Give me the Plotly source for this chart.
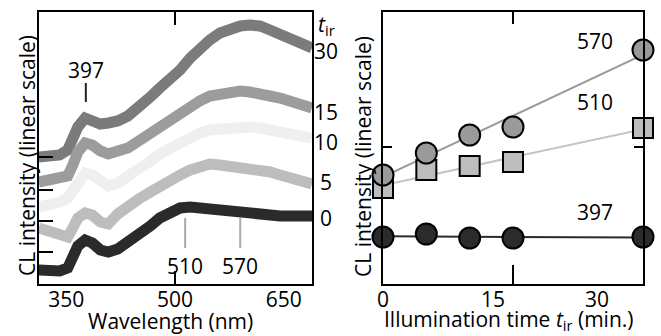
import numpy as np
import plotly.graph_objects as go

# ---------------- data: left panel (CL spectra, offset) ----------------
wavelength = [312, 328, 341, 352, 359, 366, 376, 386, 397, 408, 421, 435, 452, 466, 479,
              493, 507, 521, 534, 548, 562, 576, 590, 603, 617, 631, 645, 659, 672, 689]
spec_t30 = [127, 128, 129, 134, 146, 157, 166, 164, 160, 161, 163, 168, 177, 187, 196,
            204, 214, 226, 236, 244, 251, 255, 258, 259, 258, 254, 249, 244, 240, 236]
spec_t15 = [102, 104, 106, 108, 119, 132, 141, 139, 133, 130, 133, 136, 144, 151, 157,
            162, 169, 176, 183, 188, 190, 192, 193, 192, 191, 188, 186, 183, 180, 176]
spec_t10 = [77, 79, 82, 86, 94, 104, 111, 109, 102, 98, 101, 107, 116, 123, 130,
            136, 142, 147, 151, 154, 155, 156, 157, 157, 156, 154, 152, 150, 148, 146]
spec_t5 = [56, 52, 48, 47, 56, 66, 71, 69, 62, 60, 70, 78, 86, 92, 98,
           103, 109, 114, 118, 120, 119, 118, 117, 116, 115, 112, 109, 106, 103, 100]
spec_t0 = [14, 12, 13, 16, 26, 38, 44, 41, 34, 32, 35, 42, 49, 58, 66,
           72, 76, 77, 76, 74, 73, 71, 70, 69, 69, 68, 68, 68, 68, 68]
spec_labels = ["30", "15", "10", "5", "0"]
spec_label_y = [51, 112, 142, 182, 218]          # pixel rows of the t_ir labels
spec_colors = ["#7b7b7b", "#9c9c9c", "#efefef", "#bdbdbd", "#2a2a2a"]

wl_ticks = [350, 500, 650]
wl_ticktext = ["350", "500", "650"]
left_ytick_vals = [127, 94, 63, 32]

peak_names = ["397", "510", "570"]
peak_mark_x = [377, 514, 590]
peak_mark_y0 = [182, 36, 36]
peak_mark_y1 = [201, 66, 66]
peak_label_y = [214, 18, 18]
peak_mark_colors = ["#222222", "#aaaaaa", "#aaaaaa"]

# ---------------- data: right panel (intensity vs time) ----------------
t_ir = [0, 5, 10, 15, 30]
int_570 = [109, 131, 149, 157, 234]
int_510 = [96, 114, 118, 122, 156]
int_397 = [47, 50, 46, 46, 47]
t_tick_pos = [0, 12.7, 24.7]
t_tick_text = ["0", "15", "30"]
right_label_y = [243, 182, 72]   # value positions of the "570","510","397" labels

FONT = "Open Sans"
FS = 21
W, H = 661, 336

fig = go.Figure()

# left spectra
for ys, col in zip([spec_t30, spec_t15, spec_t10, spec_t5, spec_t0], spec_colors):
    fig.add_trace(go.Scatter(x=wavelength, y=ys, mode="lines",
                             line=dict(color=col, width=11), xaxis="x", yaxis="y",
                             showlegend=False, hoverinfo="skip"))

# right: fit lines
tt = np.array(t_ir, dtype=float)
for ys, col in [(int_570, "#9a9a9a"), (int_510, "#c4c4c4"), (int_397, "#2b2b2b")]:
    k, b = np.polyfit(tt, np.array(ys, dtype=float), 1)
    fx = np.array([0.0, 30.0])
    fig.add_trace(go.Scatter(x=fx, y=k * fx + b, mode="lines",
                             line=dict(color=col, width=2), xaxis="x2", yaxis="y2",
                             showlegend=False, hoverinfo="skip", cliponaxis=False))

fig.add_trace(go.Scatter(x=t_ir, y=int_397, mode="markers", xaxis="x2", yaxis="y2",
                         marker=dict(symbol="circle", size=21, color="#2b2b2b",
                                     line=dict(color="#000", width=2)),
                         showlegend=False, cliponaxis=False))
fig.add_trace(go.Scatter(x=t_ir, y=int_510, mode="markers", xaxis="x2", yaxis="y2",
                         marker=dict(symbol="square", size=20, color="#bdbdbd",
                                     line=dict(color="#000", width=2)),
                         showlegend=False, cliponaxis=False))
fig.add_trace(go.Scatter(x=t_ir, y=int_570, mode="markers", xaxis="x2", yaxis="y2",
                         marker=dict(symbol="circle", size=21, color="#9a9a9a",
                                     line=dict(color="#000", width=2)),
                         showlegend=False, cliponaxis=False))

# geometry (pixels)
L0, L1 = 39, 312
R0, R1 = 383, 643
T, B = 12, 284
dom_y = [(H - B) / H, (H - T) / H]

axis_common = dict(showline=True, linecolor="#000", linewidth=2, mirror=True,
                   showgrid=False, zeroline=False, ticks="", automargin=False,
                   tickfont=dict(family=FONT, size=FS, color="#000"))
fig.update_layout(
    width=W, height=H, margin=dict(l=0, r=0, t=0, b=0, autoexpand=False),
    paper_bgcolor="white", plot_bgcolor="white",
    font=dict(family=FONT, size=FS, color="#000"),
    xaxis=dict(domain=[L0 / W, L1 / W], range=[312.4, 689], tickvals=wl_ticks,
               ticktext=wl_ticktext, anchor="y", ticklabelstandoff=-4, **axis_common),
    yaxis=dict(domain=dom_y, range=[0, 272], showticklabels=False, anchor="x",
               **axis_common),
    xaxis2=dict(domain=[R0 / W, R1 / W], range=[0, 30], tickvals=t_tick_pos,
                ticktext=t_tick_text, anchor="y2", ticklabelstandoff=-4, **axis_common),
    yaxis2=dict(domain=dom_y, range=[0, 272], showticklabels=False, anchor="x2",
                **axis_common),
)

shapes = []
# left y ticks
for v in left_ytick_vals:
    shapes.append(dict(type="line", xref="x domain", yref="y", x0=0, x1=14 / (L1 - L0),
                       y0=v, y1=v, line=dict(color="#000", width=2)))
# left x tick at 500 (top & bottom)
for y0, y1 in [(0, 13 / (B - T)), (1, 1 - 13 / (B - T))]:
    shapes.append(dict(type="line", xref="x", yref="y domain", x0=500, x1=500,
                       y0=y0, y1=y1, line=dict(color="#000", width=2)))
# right x tick at 15
for y0, y1 in [(0, 19 / (B - T)), (1, 1 - 12 / (B - T))]:
    shapes.append(dict(type="line", xref="x2", yref="y2 domain", x0=15, x1=15,
                       y0=y0, y1=y1, line=dict(color="#000", width=2)))
# right y ticks
for x0, x1 in [(0, 9 / (R1 - R0)), (1, 1 - 9 / (R1 - R0))]:
    shapes.append(dict(type="line", xref="x2 domain", yref="y2", x0=x0, x1=x1,
                       y0=137, y1=137, line=dict(color="#000", width=2)))
# peak marks on spectra
for px, y0, y1, c in zip(peak_mark_x, peak_mark_y0, peak_mark_y1, peak_mark_colors):
    shapes.append(dict(type="line", xref="x", yref="y", x0=px, x1=px, y0=y0, y1=y1,
                       line=dict(color=c, width=2)))
fig.update_layout(shapes=shapes)

ann = []
def txt(text, x, y, xref="paper", yref="paper", size=FS, angle=0, xanchor="center"):
    ann.append(dict(text=text, x=x, y=y, xref=xref, yref=yref, showarrow=False,
                    font=dict(family=FONT, size=size, color="#000"), textangle=angle,
                    xanchor=xanchor, yanchor="middle"))

for name, px, py in zip(peak_names, peak_mark_x, peak_label_y):
    txt(name, px, py, xref="x", yref="y")
for lab, py in zip(spec_labels, spec_label_y):
    txt(lab, 325.5 / W, 1 - py / H)
txt("<i>t</i><sub>ir</sub>", 326 / W, 1 - 25 / H)
for name, v in zip(["570", "510", "397"], right_label_y):
    txt(name, 24.5, v, xref="x2", yref="y2")
txt("Wavelength (nm)", 170 / W, 1 - 321 / H)
txt("Illumination time <i>t</i><sub>ir</sub> (min.)", 509 / W, 1 - 320 / H)
txt("CL intensity (linear scale)", 27 / W, 1 - 156 / H, angle=-90)
txt("CL intensity (linear scale)", 363 / W, 1 - 157 / H, angle=-90)
fig.update_layout(annotations=ann)

fig.write_html("out.html", config={"displayModeBar": False},
               post_script="document.body.style.margin='0';document.body.style.overflow='hidden';")
